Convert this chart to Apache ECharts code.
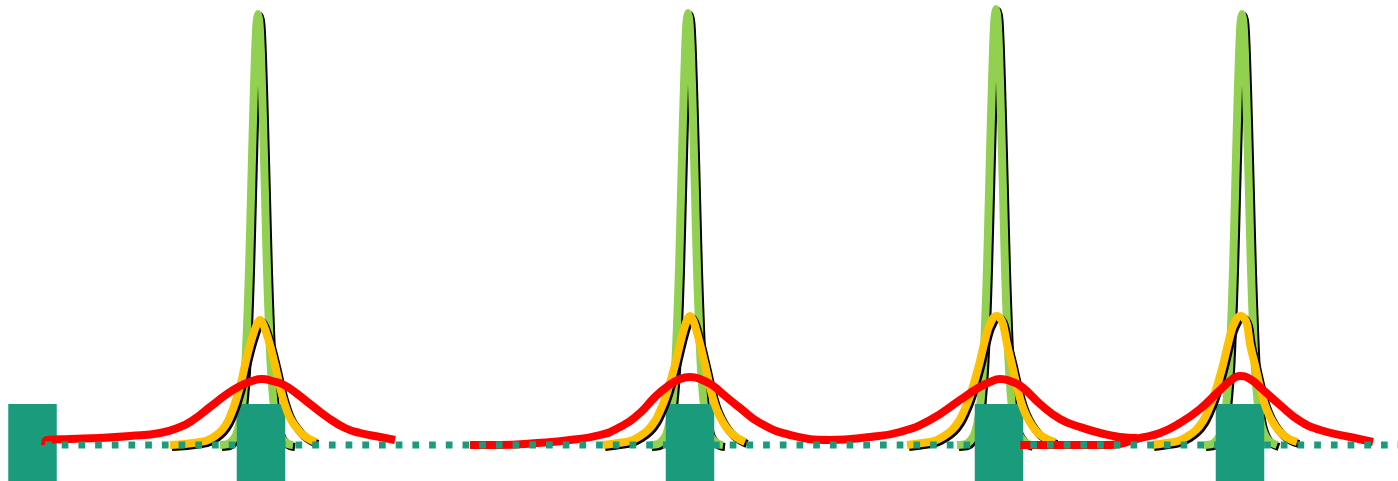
<!DOCTYPE html>
<html>
<head>
<meta charset="utf-8">
<script src="https://cdn.jsdelivr.net/npm/echarts/dist/echarts.min.js"></script>
<style>
html,body{margin:0;padding:0;background:#fff;}
#chart{width:1398px;height:481px;}
</style>
</head>
<body>
<div id="chart"></div>
<script>
// ---- data (x position, height above the dotted baseline) ----
const green1 = [[220,0],[228,1],[232,4],[236,10],[239,20],[242,38],[245,75],[247,118],[249,175],[251,250],[253,325],[255,390],[256.5,422],[258,431],[259.5,422],[261,390],[263,325],[265,250],[267,175],[269,118],[271,75],[274,38],[277,20],[280,10],[284,4],[288,1],[293,0]];
const green2 = [[650,0],[658,1],[662,4],[666,10],[669,21],[672,39],[675,76],[677,120],[679,176],[681,252],[683,327],[685,391],[686.5,423],[688,432],[689.5,423],[691,391],[693,327],[695,252],[697,176],[699,120],[701,76],[704,39],[707,21],[710,10],[714,4],[718,1],[723,0]];
const green3 = [[957,0],[966,1],[970,4],[974,10],[977,20],[980,38],[983,76],[985,119],[987,177],[989,253],[991,329],[993,395],[994.5,427],[996,436],[997.5,427],[999,395],[1001,329],[1003,253],[1005,177],[1007,119],[1009,76],[1012,38],[1015,20],[1018,12],[1022,6],[1026,2],[1031,0]];
const green4 = [[1204,0],[1212,1],[1216,4],[1220,10],[1223,20],[1226,38],[1229,75],[1231,118],[1233,175],[1235,250],[1237,325],[1239,390],[1240.5,422],[1242,431],[1243.5,422],[1245,390],[1247,325],[1249,250],[1251,175],[1253,118],[1255,75],[1258,40],[1261,22],[1264,12],[1268,5],[1272,2],[1277,0]];

const yellow1 = [[170,0],[185,1],[200,3],[208,5],[215,9],[222,15],[228,24],[233,36],[237,48],[241,62],[245,80],[250,100],[254,113],[257,121],[260,125],[263,121],[266,113],[270,100],[275,80],[280,58],[285,40],[290,27],[296,18],[302,11],[309,6],[316,3]];
const yellow2 = [[603,0],[618,2],[630,4],[640,9],[648,15],[655,24],[660,34],[665,46],[670,62],[675,80],[680,101],[684,116],[687,125],[690,129],[693,125],[696,116],[700,101],[705,80],[710,58],[715,40],[720,28],[726,18],[732,11],[739,6],[745,3]];
const yellow3 = [[907,0],[922,2],[934,4],[944,9],[952,15],[959,24],[964,34],[969,46],[974,62],[979,80],[984,101],[988,116],[991,123],[994,128],[997,129],[1000,127],[1003,121],[1007,101],[1012,80],[1017,58],[1022,40],[1027,28],[1033,18],[1039,11],[1047,6],[1055,3]];
const yellow4 = [[1152,0],[1166,2],[1178,4],[1188,9],[1196,15],[1203,24],[1208,34],[1213,46],[1218,62],[1223,80],[1228,101],[1232,116],[1235,123],[1238,128],[1241,129],[1244,127],[1247,121],[1250,101],[1255,80],[1260,58],[1265,40],[1270,28],[1276,18],[1282,11],[1289,6],[1297,3]];

const red1 = [[45,0],[47,5],[70,6],[100,7],[130,9],[160,12],[180,18],[193,25],[210,38],[227,51],[240,59],[252,64],[262,66],[272,64],[284,60],[296,52],[310,41],[327,28],[345,17],[360,12],[380,8],[395,5]];
const red2 = [[470,0],[500,0],[537,2],[570,5],[600,10],[620,18],[640,32],[655,48],[668,59],[680,66],[690,68],[700,66],[712,60],[724,50],[740,37],[760,22],[790,10],[830,5],[870,8],[900,13],[930,25],[960,45],[978,57],[990,63],[1000,66],[1010,64],[1022,58],[1040,41],[1060,26],[1080,18],[1100,12],[1120,8],[1137,7]];
const red3 = [[1020,0],[1060,0],[1110,0],[1140,7],[1160,12],[1180,22],[1200,36],[1218,53],[1230,64],[1240,69],[1250,66],[1262,56],[1280,40],[1300,24],[1320,15],[1350,8],[1373,3]];

const baseline = [[45,0],[1398,0]];
const blockCenters = [32.5, 261, 690, 999, 1240];
const blockTop = 41;
const yMin = -36, yMax = 445, xMax = 1398;

// ---- styles ----
const TEAL = '#1a9c7c', GREEN = '#92d050', YELLOW = '#ffc000', RED = '#ff0000';

function joinSegments(segs){
  const out = [];
  segs.forEach((s,i)=>{ if(i) out.push('-'); s.forEach(p=>out.push(p)); });
  return out;
}

const shadow = {shadowColor:'#000', shadowBlur:0, shadowOffsetX:2, shadowOffsetY:2};

const chart = echarts.init(document.getElementById('chart'), null, {renderer:'canvas'});
chart.setOption({
  animation:false,
  backgroundColor:'#fff',
  grid:{left:0,right:0,top:0,bottom:0},
  xAxis:{type:'value',min:0,max:xMax,show:false},
  yAxis:{type:'value',min:yMin,max:yMax,show:false},
  series:[
    {type:'line', z:2, data:joinSegments([green1,green2,green3,green4]), showSymbol:false, smooth:0.3, silent:true,
     lineStyle:Object.assign({color:GREEN,width:8}, shadow)},
    {type:'custom', z:3, silent:true, data:blockCenters.map(c=>[c, blockTop]),
     renderItem:(params, api)=>{
       const c = api.value(0), top = api.value(1);
       const pt = api.coord([c, top]);
       const pb = api.coord([c, yMin]);
       const w = 48.5;
       return {type:'rect', shape:{x:pt[0]-w/2, y:pt[1], width:w, height:pb[1]-pt[1]}, style:{fill:TEAL}};
     }},
    {type:'line', z:4, data:joinSegments([yellow1,yellow2,yellow3,yellow4]), showSymbol:false, smooth:0.4, silent:true,
     lineStyle:Object.assign({color:YELLOW,width:8}, shadow)},
    {type:'line', z:5, data:joinSegments([red1,red2,red3]), showSymbol:false, smooth:0.5, silent:true,
     lineStyle:{color:RED,width:8}},
    {type:'line', z:6, data:baseline, showSymbol:false, silent:true,
     lineStyle:{color:TEAL,width:7,type:[6.7,10],cap:'butt'}}
  ]
});
</script>
</body>
</html>
